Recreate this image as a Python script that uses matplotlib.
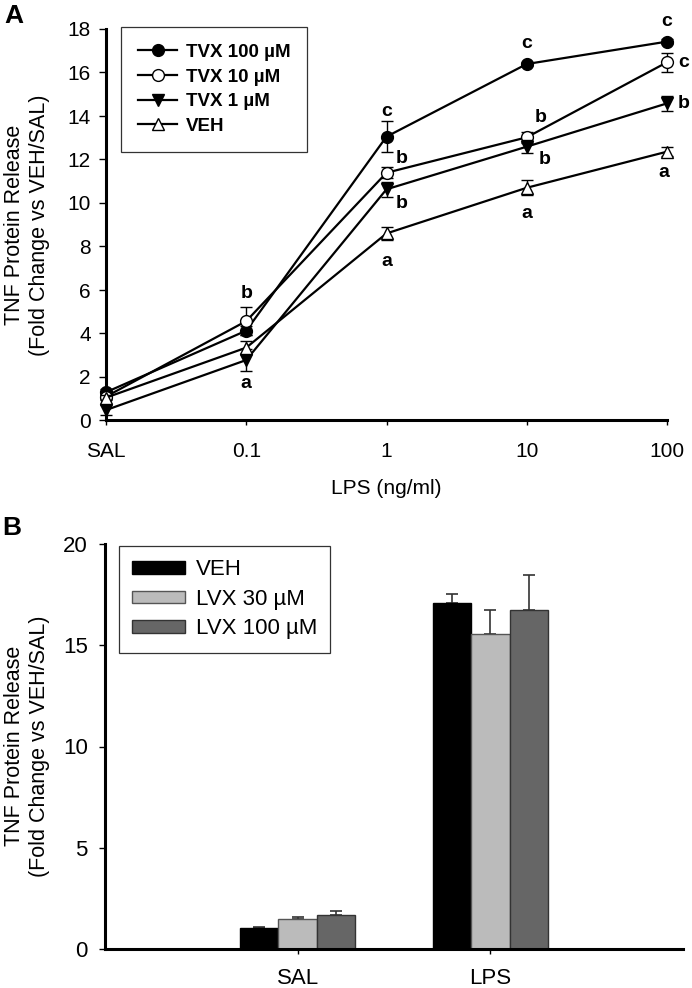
import matplotlib
matplotlib.use("Agg")
import matplotlib.pyplot as plt
from matplotlib.lines import Line2D
import numpy as np

plt.rcParams['font.family'] = ['Liberation Sans', 'DejaVu Sans']

# ---------------- PANEL A DATA ----------------
lps_labels = ['SAL', '0.1', '1', '10', '100']

tvx100 = [1.30, 4.13, 13.05, 16.39, 17.42]
tvx100_err = [0.15, 0.20, 0.72, 0.10, 0.10]
tvx10 = [1.10, 4.57, 11.39, 13.02, 16.47]
tvx10_err = [0.10, 0.65, 0.25, 0.25, 0.44]
tvx1 = [0.48, 2.78, 10.63, 12.59, 14.58]
tvx1_err = [0.25, 0.50, 0.35, 0.30, 0.35]
veh_a = [1.05, 3.35, 8.60, 10.70, 12.36]
veh_a_err = [0.10, 0.30, 0.30, 0.35, 0.20]

series_names_a = ['TVX 100 µM', 'TVX 10 µM', 'TVX 1 µM', 'VEH']

# significance letters: (series index, dose index, letter)
sig_letters = [
    (1, 1, 'b'), (2, 1, 'a'),
    (0, 2, 'c'), (1, 2, 'b'), (2, 2, 'b'), (3, 2, 'a'),
    (0, 3, 'c'), (1, 3, 'b'), (2, 3, 'b'), (3, 3, 'a'),
    (0, 4, 'c'), (1, 4, 'c'), (2, 4, 'b'), (3, 4, 'a'),
]
# pixel offsets of each letter from its point
sig_offsets = [
    (0, 28), (0, -23),
    (0, 25), (15, 14), (15, -14), (0, -28),
    (0, 21), (14, 20), (18, -13), (0, -26),
    (0, 20), (17, 0), (17, 0), (-3, -21),
]

# ---------------- PANEL B DATA ----------------
groups_b = ['SAL', 'LPS']
veh_b = [1.02, 17.08]
veh_b_err = [0.08, 0.44]
lvx30 = [1.48, 15.58]
lvx30_err = [0.10, 1.17]
lvx100 = [1.68, 16.75]
lvx100_err = [0.21, 1.73]
series_names_b = ['VEH', 'LVX 30 µM', 'LVX 100 µM']

W, H = 692, 988
fig = plt.figure(figsize=(W / 100, H / 100), dpi=100)


def frac_box(x0, y0, x1, y1):
    return [x0 / W, 1 - y1 / H, (x1 - x0) / W, (y1 - y0) / H]


def style_axes(ax):
    for side in ['top', 'right']:
        ax.spines[side].set_visible(False)
    for side in ['left', 'bottom']:
        ax.spines[side].set_linewidth(2.2)


YLABEL = 'TNF Protein Release\n(Fold Change vs VEH/SAL)'

# ---------------- PANEL A ----------------
axA = fig.add_axes(frac_box(106, 29, 667, 420.5))
style_axes(axA)
xa = np.arange(len(lps_labels))
vals_a = [tvx100, tvx10, tvx1, veh_a]
errs_a = [tvx100_err, tvx10_err, tvx1_err, veh_a_err]
markers = ['o', 'o', 'v', '^']
faces = ['black', 'white', 'black', 'white']

handles = []
for i in range(4):
    eb = axA.errorbar(xa, vals_a[i], yerr=errs_a[i], color='black', lw=1.6,
                      marker=markers[i], mfc=faces[i], mec='black', ms=8.5,
                      mew=1.0, ecolor='black', elinewidth=1.0, capsize=4.5,
                      capthick=1.0, clip_on=False, zorder=3 + i)
    for art in eb.lines[1] + eb.lines[2]:
        art.set_clip_on(False)
    handles.append(Line2D([], [], color='black', lw=1.6, marker=markers[i],
                          mfc=faces[i], mec='black', ms=8.5, mew=1.0,
                          label=series_names_a[i]))

for (si, di, letter), (dx, dy) in zip(sig_letters, sig_offsets):
    axA.annotate(letter, (xa[di], vals_a[si][di]), xytext=(dx, dy),
                 textcoords='offset pixels', ha='center', va='center',
                 fontsize=14, fontweight='bold')

axA.set_xlim(0, 4)
axA.set_ylim(0, 18)
axA.set_xticks(xa)
axA.set_xticklabels(lps_labels)
axA.set_yticks(np.arange(0, 19, 2))
axA.tick_params(axis='y', direction='out', length=5, width=1, pad=6,
                labelsize=15)
axA.tick_params(axis='x', direction='out', length=3.5, width=1, pad=12,
                labelsize=15)
fig.text(386 / W, 1 - 488 / H, 'LPS (ng/ml)', ha='center', va='center',
         fontsize=15)

legA = axA.legend(handles=handles, loc='upper left',
                  bbox_to_anchor=(121 / W, 1 - 27 / H),
                  bbox_transform=fig.transFigure, frameon=True,
                  fancybox=False, edgecolor='#333333', framealpha=1,
                  prop={'weight': 'bold', 'size': 13.5}, handlelength=2.1,
                  handletextpad=0.45, labelspacing=0.4, borderpad=0.9,
                  borderaxespad=0)
legA.get_frame().set_linewidth(0.9)

fig.text(14 / W, 1 - 16 / H, 'A', fontsize=19, fontweight='bold',
         ha='center', va='center')
fig.text(27.5 / W, 1 - 225 / H, YLABEL, rotation=90,
         ha='center', va='center', multialignment='center', fontsize=15.5,
         linespacing=1.25)

# ---------------- PANEL B ----------------
axB = fig.add_axes(frac_box(105, 544, 683, 949))
style_axes(axB)
xb = np.arange(1, len(groups_b) + 1)
width = 0.2
vals_b = [veh_b, lvx30, lvx100]
errs_b = [veh_b_err, lvx30_err, lvx100_err]
bar_colors = ['#000000', '#bbbbbb', '#666666']
edge_colors = ['#000000', '#555555', '#333333']

bar_handles = []
for i in range(3):
    pos = xb + (i - 1) * width
    b = axB.bar(pos, vals_b[i], width, color=bar_colors[i],
                edgecolor=edge_colors[i], linewidth=1.0, zorder=2,
                label=series_names_b[i])
    axB.errorbar(pos, vals_b[i], yerr=[np.zeros(len(pos)), errs_b[i]],
                 fmt='none', ecolor='#333333', elinewidth=1.2, capsize=4.5,
                 capthick=1.2, zorder=1)
    bar_handles.append(b)

axB.set_xlim(0, 3)
axB.set_ylim(0, 20)
axB.set_xticks(xb)
axB.set_xticklabels(groups_b)
axB.set_yticks(np.arange(0, 21, 5))
axB.tick_params(axis='y', direction='out', length=4.5, width=1, pad=8,
                labelsize=16)
axB.tick_params(axis='x', direction='out', length=3.5, width=1, pad=10.5,
                labelsize=16)

legB = axB.legend(handles=bar_handles, loc='upper left',
                  bbox_to_anchor=(119 / W, 1 - 546 / H),
                  bbox_transform=fig.transFigure, frameon=True,
                  fancybox=False, edgecolor='#333333', framealpha=1,
                  prop={'size': 16}, handlelength=2.35, handleheight=0.5,
                  handletextpad=0.5, labelspacing=0.38, borderpad=0.6,
                  borderaxespad=0)
legB.get_frame().set_linewidth(0.9)

fig.text(12 / W, 1 - 528 / H, 'B', fontsize=19, fontweight='bold',
         ha='center', va='center')
fig.text(27.5 / W, 1 - 746 / H, YLABEL, rotation=90,
         ha='center', va='center', multialignment='center', fontsize=15.5,
         linespacing=1.25)

fig.savefig('out.png', dpi=100)
